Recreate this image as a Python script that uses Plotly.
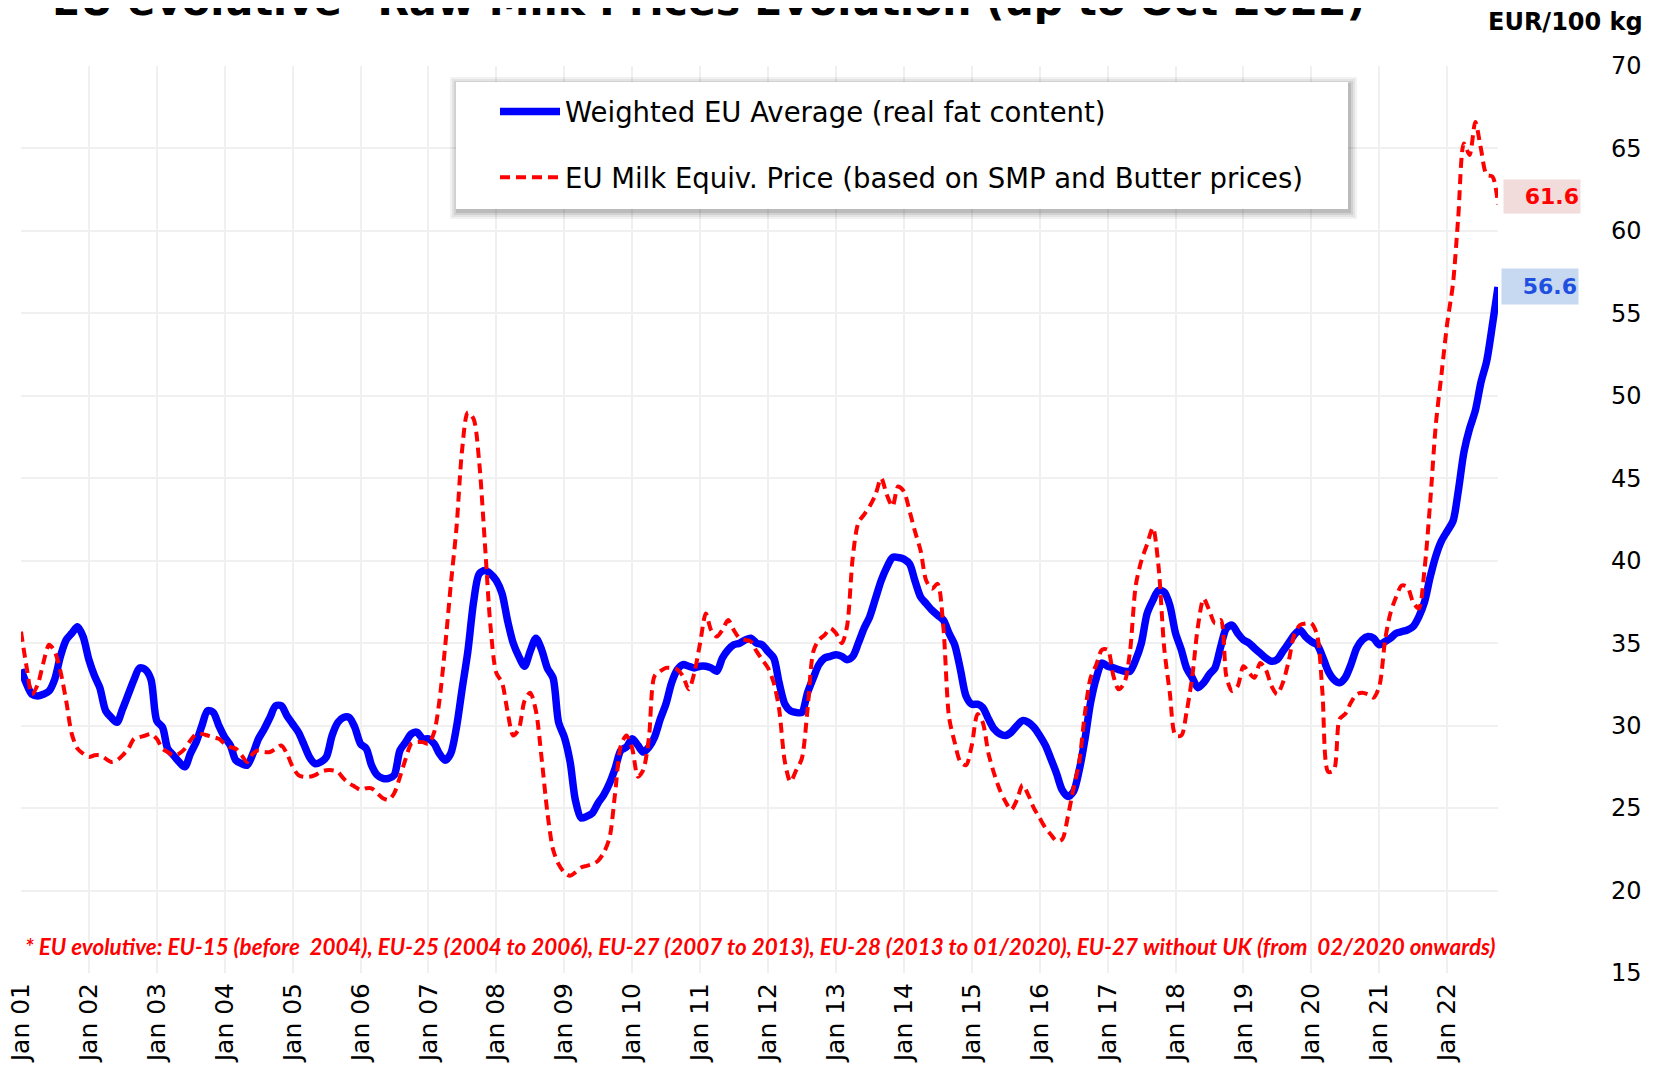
import plotly.graph_objects as go
import pandas as pd

# ---------------- data ----------------
months = pd.date_range("2001-01-01", "2022-10-01", freq="MS")

# Weighted EU Average (real fat content), EUR/100 kg, monthly Jan 2001 - Oct 2022
eu_avg = [
    33.4, 32.5, 31.9, 31.8, 31.9, 32.1, 32.8, 34.2, 35.2, 35.6, 36.0, 35.4,  # 2001
    34.0, 33.0, 32.3, 30.9, 30.5, 30.2, 31.0, 31.9, 32.8, 33.5, 33.4, 32.8,  # 2002
    30.3, 29.9, 28.6, 28.2, 27.8, 27.5, 28.3, 29.0, 30.0, 30.9, 30.8, 30.0,  # 2003
    29.3, 28.8, 27.9, 27.7, 27.6, 28.3, 29.2, 29.8, 30.5, 31.2, 31.2, 30.6,  # 2004
    30.1, 29.6, 28.9, 28.1, 27.7, 27.8, 28.1, 29.4, 30.2, 30.5, 30.5, 29.9,  # 2005
    28.9, 28.6, 27.6, 27.0, 26.8, 26.8, 27.0, 28.5, 29.0, 29.5, 29.6, 29.2,  # 2006
    29.2, 28.9, 28.3, 27.9, 28.3, 29.9, 32.2, 34.5, 37.5, 39.2, 39.4, 39.2,  # 2007
    38.8, 38.0, 36.4, 35.0, 34.2, 33.6, 34.5, 35.3, 34.6, 33.5, 32.9, 30.2,  # 2008
    29.3, 27.8, 25.5, 24.4, 24.5, 24.7, 25.3, 25.8, 26.5, 27.4, 28.5, 28.7,  # 2009
    29.2, 28.8, 28.4, 28.7, 29.3, 30.4, 31.3, 32.6, 33.4, 33.7, 33.6, 33.5,  # 2010
    33.6, 33.6, 33.5, 33.3, 34.1, 34.6, 34.9, 35.0, 35.2, 35.3, 35.0, 34.9,  # 2011
    34.5, 34.1, 32.6, 31.3, 30.9, 30.8, 30.8, 32.0, 32.9, 33.7, 34.1, 34.2,  # 2012
    34.3, 34.2, 34.0, 34.2, 35.0, 35.9, 36.6, 37.7, 38.8, 39.6, 40.2, 40.2,  # 2013
    40.1, 39.8, 38.8, 37.8, 37.4, 37.0, 36.7, 36.4, 35.6, 34.9, 33.4, 31.8,  # 2014
    31.3, 31.3, 31.1, 30.4, 29.8, 29.5, 29.4, 29.6, 30.0, 30.3, 30.2, 29.9,  # 2015
    29.4, 28.8, 28.0, 27.1, 26.1, 25.7, 26.0, 27.3, 29.2, 31.4, 32.9, 33.8,  # 2016
    33.6, 33.5, 33.4, 33.3, 33.3, 34.0, 35.0, 36.8, 37.6, 38.2, 38.1, 37.3,  # 2017
    35.6, 34.6, 33.5, 32.9, 32.3, 32.6, 33.1, 33.5, 34.8, 35.9, 36.1, 35.6,  # 2018
    35.2, 35.0, 34.7, 34.4, 34.1, 33.9, 34.0, 34.5, 35.0, 35.5, 35.8, 35.4,  # 2019
    35.1, 34.9, 34.2, 33.3, 32.8, 32.6, 32.9, 33.7, 34.7, 35.2, 35.4, 35.3,  # 2020
    34.9, 35.1, 35.3, 35.6, 35.7, 35.8, 36.0, 36.6, 37.5, 39.0, 40.3, 41.2,  # 2021
    41.8, 42.4, 44.2, 46.6, 48.0, 49.1, 50.8, 52.1, 54.3, 56.6,              # 2022
]

# EU Milk Equiv. Price (based on SMP and Butter prices), EUR/100 kg
milk_equiv = [
    35.7, 33.5, 31.9, 32.5, 33.8, 34.9, 34.5, 33.3, 31.5, 29.5, 28.6, 28.3,  # 2001
    28.1, 28.2, 28.2, 28.0, 27.8, 27.9, 28.2, 28.6, 29.2, 29.3, 29.4, 29.5,  # 2002
    29.2, 28.6, 28.4, 28.2, 28.3, 28.6, 29.1, 29.5, 29.5, 29.4, 29.3, 29.2,  # 2003
    28.9, 28.7, 28.6, 28.2, 27.8, 28.3, 28.5, 28.4, 28.4, 28.6, 28.8, 28.3,  # 2004
    27.5, 27.0, 26.9, 26.9, 27.0, 27.2, 27.3, 27.3, 27.2, 26.8, 26.5, 26.3,  # 2005
    26.1, 26.2, 26.2, 25.9, 25.6, 25.5, 25.9, 26.9, 28.0, 28.9, 29.0, 29.0,  # 2006
    28.9, 29.6, 31.5, 34.8, 38.5, 42.0, 46.7, 49.0, 48.6, 46.0, 41.0, 36.0,  # 2007
    33.2, 32.6, 30.9, 29.4, 29.8, 31.5, 32.0, 30.9, 28.0, 24.8, 22.5, 21.6,  # 2008
    21.1, 20.9, 21.1, 21.4, 21.5, 21.6, 21.8, 22.3, 23.2, 25.9, 28.8, 29.4,  # 2009
    28.6, 26.9, 27.3, 29.3, 33.0, 33.3, 33.5, 33.5, 33.4, 33.0, 32.2, 33.2,  # 2010
    35.0, 36.8, 35.8, 35.4, 35.8, 36.4, 35.8, 35.3, 35.2, 35.1, 34.5, 34.0,  # 2011
    33.5, 32.6, 31.0, 27.8, 26.6, 27.3, 28.0, 31.0, 34.5, 35.2, 35.5, 35.9,  # 2012
    35.6, 35.0, 36.0, 40.2, 42.3, 42.8, 43.3, 44.0, 45.0, 44.0, 43.3, 44.5,  # 2013
    44.2, 43.0, 41.8, 40.6, 38.8, 38.3, 38.6, 36.0, 30.5, 29.0, 27.8, 27.6,  # 2014
    28.8, 30.7, 30.2, 28.3, 27.1, 26.1, 25.4, 24.9, 25.5, 26.4, 25.8, 25.0,  # 2015
    24.4, 23.8, 23.4, 23.0, 23.1, 24.5, 26.2, 27.8, 30.8, 32.9, 33.7, 34.6,  # 2016
    34.6, 33.0, 32.2, 32.6, 34.5, 38.5, 40.0, 41.0, 42.0, 39.7, 34.7, 32.0,  # 2017
    29.4, 29.4, 30.8, 33.0, 36.0, 37.7, 37.0, 36.2, 36.4, 33.0, 32.1, 32.4,  # 2018
    33.6, 33.2, 32.9, 33.8, 33.4, 32.4, 31.9, 32.6, 33.9, 35.5, 36.1, 36.2,  # 2019
    36.2, 35.5, 32.0, 27.2, 27.3, 30.4, 30.7, 31.4, 31.9, 32.0, 31.9, 31.7,  # 2020
    32.4, 35.2, 36.8, 37.8, 38.5, 38.4, 37.5, 37.1, 39.5, 43.5, 48.3, 51.3,  # 2021
    54.4, 56.8, 60.8, 65.3, 64.6, 66.6, 65.0, 63.4, 63.3, 61.6,              # 2022
]

tick_dates = [f"{y}-01-01" for y in range(2001, 2023)]
tick_labels = [f"Jan {y % 100:02d}" for y in range(2001, 2023)]
y_ticks = list(range(15, 75, 5))

series_names = ["Weighted EU Average (real fat content)",
                "EU Milk Equiv. Price (based on SMP and Butter prices)"]
title_text = "EU evolutive* Raw Milk Prices Evolution (up to Oct 2022)"
unit_text = "EUR/100 kg"
footnote_text = ("* EU evolutive: EU-15 (before  2004), EU-25 (2004 to 2006), EU-27 (2007 to 2013), "
                 "EU-28 (2013 to 01/2020), EU-27 without UK (from  02/2020 onwards)")

# ---------------- layout constants ----------------
# the page body has an 8px default margin, so the figure sits at (8, 8) on the page
OFF = 8
W, H = 1662 - OFF, 1072 - OFF
ML, MT = 21 - OFF, 66 - OFF           # plot left/top on the page: 21 / 66
MR = W - (1498 - OFF)                  # plot right on the page: 1498
MB = H - (973 - OFF)                   # plot bottom on the page: 973
PW, PH = W - ML - MR, H - MT - MB
FONT = "DejaVu Sans"


def px_x(px):
    """page pixel x -> paper fraction"""
    return (px - OFF - ML) / PW


def px_y(py):
    """page pixel y -> paper fraction"""
    return (H - MB - (py - OFF)) / PH


fig = go.Figure()
fig.add_trace(go.Scatter(
    x=months, y=eu_avg, mode="lines", name=series_names[0],
    line=dict(color="#0000FF", width=7.5, shape="spline", smoothing=0.8),
    legendgroup="a", hoverinfo="x+y"))
fig.add_trace(go.Scatter(
    x=months, y=milk_equiv, mode="lines", name=series_names[1],
    line=dict(color="#FF0000", width=4, dash="10px,6px", shape="spline", smoothing=0.8),
    legendgroup="b", hoverinfo="x+y"))

# legend box with soft shadow
bx0, bx1, by0, by1 = 456, 1348, 82, 209
shapes = []
for i, a in enumerate([0.05, 0.06, 0.08, 0.10]):
    g = 7 - 2 * i
    shapes.append(dict(type="rect", xref="paper", yref="paper", layer="above",
                       x0=px_x(bx0 - g + 1), x1=px_x(bx1 + g + 2),
                       y0=px_y(by1 + g + 3), y1=px_y(by0 - g + 2),
                       fillcolor=f"rgba(0,0,0,{a})", line=dict(width=0)))
shapes.append(dict(type="rect", xref="paper", yref="paper", layer="above",
                   x0=px_x(bx0), x1=px_x(bx1), y0=px_y(by1), y1=px_y(by0),
                   fillcolor="white", line=dict(width=0)))

annotations = [
    dict(text=f"<b>{title_text}</b>", xref="paper", yref="paper",
         x=px_x(708), y=px_y(27), xanchor="center", yanchor="bottom",
         showarrow=False, font=dict(family=FONT, size=41, color="black")),
    dict(text=f"<b>{unit_text}</b>", xref="paper", yref="paper",
         x=px_x(1645), y=px_y(22), xanchor="right", yanchor="middle",
         showarrow=False, font=dict(family=FONT, size=24, color="black")),
    dict(text=f"<b><i>{footnote_text}</i></b>", xref="paper", yref="paper",
         x=px_x(23), y=px_y(946), xanchor="left", yanchor="middle",
         showarrow=False, font=dict(family="Lato", size=22.4, color="#FF0000")),
    dict(text=f"<b>{milk_equiv[-1]:.1f}</b>", xref="paper", yref="y",
         x=px_x(1503), y=62.1, xanchor="left", yanchor="middle", showarrow=False,
         width=74, height=31, align="right", bgcolor="#F2DCDB", borderpad=1,
         font=dict(family=FONT, size=22, color="#FF0000")),
    dict(text=f"<b>{eu_avg[-1]:.1f}</b>", xref="paper", yref="y",
         x=px_x(1501), y=56.6, xanchor="left", yanchor="middle", showarrow=False,
         width=74, height=33, align="right", bgcolor="#C6D9F1", borderpad=1,
         font=dict(family=FONT, size=22, color="#1F4FE0")),
]

fig.update_layout(
    width=W, height=H,
    margin=dict(l=ML, r=MR, t=MT, b=MB, autoexpand=False),
    paper_bgcolor="white", plot_bgcolor="white",
    font=dict(family=FONT, color="black"),
    showlegend=True,
    legend=dict(x=px_x(495), y=px_y(87), xanchor="left", yanchor="top",
                bgcolor="rgba(0,0,0,0)", borderwidth=0,
                font=dict(family=FONT, size=27.5, color="black"),
                tracegroupgap=27, itemwidth=60),
    shapes=shapes,
    annotations=annotations,
    xaxis=dict(range=["2001-01-01", "2022-10-01"], tickvals=tick_dates, ticktext=tick_labels,
               tickangle=-90, tickfont=dict(family=FONT, size=25, color="black"),
               showgrid=True, gridcolor="#F0F0F0", gridwidth=2, zeroline=False,
               showline=False, ticks="", ticklabelstandoff=4, automargin=False,
               ticklabeloverflow="allow"),
    yaxis=dict(range=[15, 70], tickvals=y_ticks, side="right",
               tickfont=dict(family=FONT, size=24, color="black"),
               showgrid=True, gridcolor="#F0F0F0", gridwidth=2, zeroline=False,
               showline=False, ticks="", ticklabelstandoff=112, automargin=False,
               ticklabeloverflow="allow"),
)

fig.write_html("out.html")
